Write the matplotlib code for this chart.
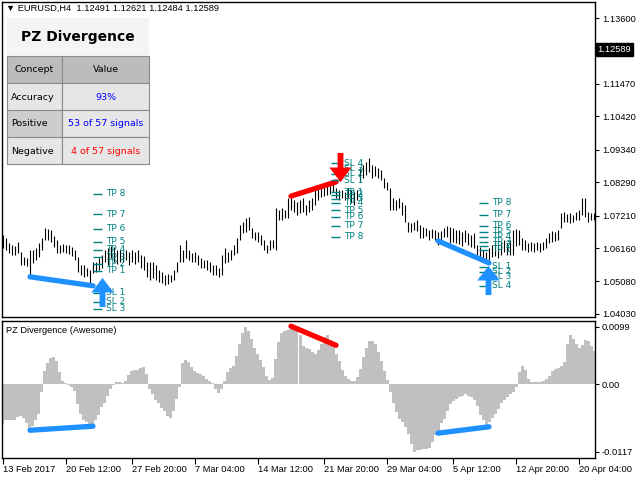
import numpy as np
import matplotlib
matplotlib.use('Agg')
import matplotlib.pyplot as plt
from matplotlib.path import Path
from matplotlib.patches import Rectangle

# EURUSD H4 bars, oldest first (high / low)
highs = [
    1.0658, 1.0649, 1.0633, 1.0626, 1.0623, 1.0636, 1.0603, 1.0587, 1.0584, 1.0610,
    1.0610, 1.0616, 1.0633, 1.0649, 1.0681, 1.0678, 1.0675, 1.0655, 1.0642, 1.0626,
    1.0629, 1.0626, 1.0626, 1.0620, 1.0610, 1.0587, 1.0561, 1.0561, 1.0552, 1.0545,
    1.0571, 1.0571, 1.0584, 1.0594, 1.0610, 1.0616, 1.0623, 1.0620, 1.0610, 1.0610,
    1.0603, 1.0610, 1.0603, 1.0610, 1.0603, 1.0610, 1.0594, 1.0591, 1.0571, 1.0571,
    1.0571, 1.0561, 1.0545, 1.0539, 1.0529, 1.0532, 1.0529, 1.0545, 1.0571, 1.0626,
    1.0610, 1.0642, 1.0610, 1.0600, 1.0603, 1.0594, 1.0584, 1.0578, 1.0578, 1.0571,
    1.0561, 1.0561, 1.0552, 1.0594, 1.0616, 1.0603, 1.0610, 1.0626, 1.0649, 1.0691,
    1.0700, 1.0713, 1.0717, 1.0681, 1.0668, 1.0668, 1.0658, 1.0642, 1.0626, 1.0642,
    1.0642, 1.0746, 1.0739, 1.0746, 1.0739, 1.0778, 1.0778, 1.0772, 1.0765, 1.0772,
    1.0778, 1.0755, 1.0772, 1.0778, 1.0804, 1.0810, 1.0817, 1.0820, 1.0817, 1.0823,
    1.0830, 1.0810, 1.0804, 1.0804, 1.0797, 1.0810, 1.0804, 1.0797, 1.0804, 1.0875,
    1.0885, 1.0894, 1.0907, 1.0885, 1.0881, 1.0875, 1.0869, 1.0843, 1.0830, 1.0810,
    1.0778, 1.0772, 1.0778, 1.0765, 1.0755, 1.0700, 1.0697, 1.0700, 1.0707, 1.0691,
    1.0684, 1.0681, 1.0675, 1.0678, 1.0675, 1.0668, 1.0671, 1.0681, 1.0688, 1.0684,
    1.0681, 1.0675, 1.0675, 1.0668, 1.0675, 1.0665, 1.0658, 1.0665, 1.0626, 1.0620,
    1.0610, 1.0603, 1.0616, 1.0626, 1.0633, 1.0626, 1.0636, 1.0642, 1.0633, 1.0642,
    1.0675, 1.0678, 1.0675, 1.0649, 1.0642, 1.0633, 1.0636, 1.0633, 1.0636, 1.0633,
    1.0636, 1.0649, 1.0665, 1.0671, 1.0668, 1.0675, 1.0730, 1.0733, 1.0726, 1.0730,
    1.0723, 1.0733, 1.0739, 1.0778, 1.0778, 1.0733, 1.0730, 1.0730,
]
lows = [
    1.0616, 1.0610, 1.0600, 1.0594, 1.0594, 1.0600, 1.0561, 1.0561, 1.0558, 1.0519,
    1.0568, 1.0578, 1.0587, 1.0610, 1.0642, 1.0642, 1.0636, 1.0620, 1.0600, 1.0600,
    1.0603, 1.0600, 1.0597, 1.0591, 1.0578, 1.0539, 1.0529, 1.0523, 1.0526, 1.0497,
    1.0536, 1.0539, 1.0545, 1.0552, 1.0571, 1.0561, 1.0584, 1.0571, 1.0565, 1.0571,
    1.0571, 1.0578, 1.0561, 1.0571, 1.0565, 1.0571, 1.0552, 1.0545, 1.0523, 1.0513,
    1.0519, 1.0513, 1.0506, 1.0503, 1.0497, 1.0500, 1.0506, 1.0513, 1.0539, 1.0571,
    1.0571, 1.0584, 1.0578, 1.0571, 1.0571, 1.0561, 1.0552, 1.0552, 1.0545, 1.0539,
    1.0529, 1.0529, 1.0523, 1.0529, 1.0568, 1.0571, 1.0578, 1.0594, 1.0600, 1.0642,
    1.0665, 1.0668, 1.0675, 1.0649, 1.0642, 1.0636, 1.0626, 1.0610, 1.0600, 1.0610,
    1.0616, 1.0610, 1.0707, 1.0707, 1.0713, 1.0713, 1.0739, 1.0733, 1.0723, 1.0730,
    1.0733, 1.0723, 1.0733, 1.0739, 1.0755, 1.0772, 1.0781, 1.0784, 1.0788, 1.0791,
    1.0797, 1.0778, 1.0772, 1.0778, 1.0772, 1.0778, 1.0762, 1.0755, 1.0772, 1.0830,
    1.0843, 1.0852, 1.0862, 1.0843, 1.0849, 1.0843, 1.0836, 1.0810, 1.0804, 1.0739,
    1.0739, 1.0739, 1.0746, 1.0723, 1.0700, 1.0668, 1.0668, 1.0675, 1.0671, 1.0649,
    1.0649, 1.0655, 1.0642, 1.0649, 1.0642, 1.0626, 1.0642, 1.0652, 1.0652, 1.0633,
    1.0636, 1.0633, 1.0629, 1.0623, 1.0636, 1.0626, 1.0620, 1.0616, 1.0584, 1.0578,
    1.0571, 1.0568, 1.0578, 1.0587, 1.0591, 1.0584, 1.0594, 1.0603, 1.0594, 1.0594,
    1.0594, 1.0623, 1.0626, 1.0610, 1.0610, 1.0603, 1.0607, 1.0603, 1.0610, 1.0603,
    1.0610, 1.0616, 1.0633, 1.0636, 1.0639, 1.0642, 1.0681, 1.0700, 1.0700, 1.0697,
    1.0700, 1.0707, 1.0707, 1.0723, 1.0717, 1.0700, 1.0707, 1.0707,
]

# PZ Divergence (Awesome) histogram
osc = [
    -0.0069, -0.0062, -0.0062, -0.0063, -0.0062, -0.0057, -0.0055, -0.0059, -0.0068, -0.0081,
    -0.0072, -0.0063, -0.0052, -0.0014, 0.0023, 0.0036, 0.0045, 0.0047, 0.0039, 0.0020,
    0.0006, 0.0001, -0.0001, -0.0005, -0.0012, -0.0035, -0.0052, -0.0062, -0.0066, -0.0072,
    -0.0070, -0.0063, -0.0053, -0.0040, -0.0032, -0.0020, -0.0009, -0.0002, 0.0003, 0.0004,
    0.0001, 0.0005, 0.0016, 0.0022, 0.0025, 0.0025, 0.0027, 0.0029, 0.0018, -0.0009,
    -0.0017, -0.0028, -0.0033, -0.0042, -0.0047, -0.0055, -0.0059, -0.0047, -0.0026, -0.0005,
    0.0036, 0.0042, 0.0038, 0.0029, 0.0022, 0.0019, 0.0017, 0.0013, 0.0009, 0.0006,
    0.0001, -0.0009, -0.0016, -0.0009, 0.0006, 0.0020, 0.0027, 0.0032, 0.0049, 0.0069,
    0.0088, 0.0099, 0.0092, 0.0078, 0.0063, 0.0052, 0.0042, 0.0029, 0.0014, 0.0007,
    0.0010, 0.0043, 0.0072, 0.0088, 0.0091, 0.0093, 0.0096, 0.0098, 0.0093, 0.0084,
    0.0066, 0.0063, 0.0061, 0.0055, 0.0052, 0.0058, 0.0069, 0.0081, 0.0084, 0.0076,
    0.0066, 0.0052, 0.0039, 0.0024, 0.0014, 0.0008, 0.0005, 0.0006, 0.0012, 0.0026,
    0.0046, 0.0063, 0.0074, 0.0075, 0.0070, 0.0055, 0.0040, 0.0023, 0.0007, -0.0014,
    -0.0032, -0.0049, -0.0061, -0.0066, -0.0075, -0.0087, -0.0104, -0.0117, -0.0115, -0.0114,
    -0.0113, -0.0113, -0.0110, -0.0101, -0.0088, -0.0081, -0.0068, -0.0061, -0.0046, -0.0035,
    -0.0029, -0.0026, -0.0023, -0.0021, -0.0017, -0.0020, -0.0022, -0.0028, -0.0038, -0.0053,
    -0.0063, -0.0072, -0.0066, -0.0059, -0.0052, -0.0043, -0.0032, -0.0028, -0.0023, -0.0018,
    -0.0013, -0.0005, 0.0020, 0.0032, 0.0024, 0.0009, 0.0003, 0.0003, 0.0003, 0.0004,
    0.0006, 0.0009, 0.0014, 0.0023, 0.0026, 0.0028, 0.0032, 0.0038, 0.0069, 0.0084,
    0.0078, 0.0070, 0.0063, 0.0068, 0.0076, 0.0075, 0.0066, 0.0057,
]

dates = ['13 Feb 2017', '20 Feb 12:00', '27 Feb 20:00', '7 Mar 04:00', '14 Mar 12:00',
         '21 Mar 20:00', '29 Mar 04:00', '5 Apr 12:00', '12 Apr 20:00', '20 Apr 04:00']
date_bars = [0, 21, 43, 64, 85, 107, 128, 150, 171, 192]

price_ticks = [1.13600, 1.11470, 1.10420, 1.09340, 1.08290, 1.07210, 1.06160, 1.05080, 1.04030]
last_price = 1.12589
osc_ticks = [0.0099, 0.0, -0.0117]
osc_labels = ['0.0099', '0.00', '-0.0117']

# divergences found by the indicator
div_bar_a = [9, 96, 145]
div_bar_b = [30, 111, 162]
div_price_a = [1.0523, 1.0784, 1.0639]
div_price_b = [1.0494, 1.0830, 1.0568]
div_osc_a = [-0.0080, 0.0100, -0.0085]
div_osc_b = [-0.0073, 0.0067, -0.0074]
div_color = ['#1e90ff', '#ff0000', '#1e90ff']

# signal arrows
sig_bar = [33, 112.3, 161.7]
sig_price = [1.0473, 1.0878, 1.0513]
sig_up = [True, False, True]

# take profit / stop loss levels per signal
lvl_bar = [30, 109.3, 158.7]
lvl_labels = [
    ['TP 8', 'TP 7', 'TP 6', 'TP 5', 'TP 4', 'TP 3', 'TP 2', 'TP 1', 'SL 1', 'SL 2', 'SL 3'],
    ['SL 4', 'SL 3', 'SL 2', 'SL 1', 'TP 1', 'TP 2', 'TP 3', 'TP 4', 'TP 5', 'TP 6', 'TP 7', 'TP 8'],
    ['TP 8', 'TP 7', 'TP 6', 'TP 5', 'TP 4', 'TP 3', 'TP 2', 'TP 1', 'SL 1', 'SL 2', 'SL 3', 'SL 4'],
]
lvl_prices = [
    [1.0791, 1.0726, 1.0678, 1.0636, 1.0610, 1.0587, 1.0565, 1.0542, 1.0471, 1.0442, 1.0419],
    [1.0891, 1.0872, 1.0856, 1.0836, 1.0797, 1.0788, 1.0775, 1.0762, 1.0739, 1.0717, 1.0688, 1.0652],
    [1.0762, 1.0723, 1.0688, 1.0668, 1.0652, 1.0636, 1.0623, 1.0610, 1.0555, 1.0539, 1.0523, 1.0494],
]

# stats panel
stat_concepts = ['Accuracy', 'Positive', 'Negative']
stat_values = ['93%', '53 of 57 signals', '4 of 57 signals']
stat_colors = ['#0000ff', '#0000ff', '#ff0000']

plt.rcParams['font.family'] = ['Liberation Sans', 'DejaVu Sans']
small = 6.7
teal = '#008080'
bars = np.arange(len(highs))

fig = plt.figure(figsize=(6.4, 4.8), dpi=100)
ax = fig.add_axes([2 / 640, 1 - 317 / 480, 593 / 640, 315 / 480])
ax2 = fig.add_axes([2 / 640, 1 - 458 / 480, 593 / 640, 137 / 480])

xlim = (-0.33, 197.33)

# main price chart
ax.vlines(bars, lows, highs, color='black', lw=0.8, zorder=2)
for a, b, pa, pb, c in zip(div_bar_a, div_bar_b, div_price_a, div_price_b, div_color):
    ax.plot([a, b], [pa, pb], color=c, lw=3.8, solid_capstyle='round', zorder=3)

for xb, labs, prices in zip(lvl_bar, lvl_labels, lvl_prices):
    ax.hlines(prices, xb, xb + 3, color=teal, lw=1.0, zorder=4)
    for lab, p in zip(labs, prices):
        ax.text(xb + 4.3, p, lab, color=teal, fontsize=6.5, family='DejaVu Sans',
                va='center', ha='left', zorder=4)

up_verts = [(0, 0.5), (0.38, 0.0), (0.1, 0.0), (0.1, -0.5), (-0.1, -0.5),
            (-0.1, 0.0), (-0.38, 0.0), (0, 0.5)]
codes = [Path.MOVETO] + [Path.LINETO] * 6 + [Path.CLOSEPOLY]
up_arrow = Path(up_verts, codes)
down_arrow = Path([(vx, -vy) for vx, vy in up_verts], codes)
for xb, p, up in zip(sig_bar, sig_price, sig_up):
    ax.plot([xb], [p], marker=up_arrow if up else down_arrow, ms=21, ls='none',
            color='#1e90ff' if up else '#ff0000', mec='none', zorder=5)

ax.set_xlim(*xlim)
ax.set_ylim(1.0393, 1.1412)
ax.set_xticks([])
ax.yaxis.tick_right()
ax.set_yticks(price_ticks)
ax.set_yticklabels(['%.5f' % v for v in price_ticks])
ax.tick_params(axis='y', direction='out', length=3, width=0.8, pad=2, labelsize=small)
ax.text(1.004, last_price, '%.5f' % last_price, transform=ax.get_yaxis_transform(),
        color='white', fontsize=small, va='center', ha='left',
        bbox=dict(boxstyle='square,pad=0.2', fc='black', ec='black'))
for s in ax.spines.values():
    s.set_linewidth(1.0)

ax.text(0.006, 0.993, '\u25bc EURUSD,H4  1.12491 1.12621 1.12484 1.12589',
        transform=ax.transAxes, fontsize=small, va='top', ha='left')

# oscillator sub window
ax2.bar(bars, osc, width=1.0, color='#c0c0c0', linewidth=0, zorder=1)
for a, b, oa, ob, c in zip(div_bar_a, div_bar_b, div_osc_a, div_osc_b, div_color):
    ax2.plot([a, b], [oa, ob], color=c, lw=3.8, solid_capstyle='round', zorder=3)
ax2.set_xlim(*xlim)
ax2.set_ylim(-0.0128, 0.0109)
ax2.yaxis.tick_right()
ax2.set_yticks(osc_ticks)
ax2.set_yticklabels(osc_labels)
ax2.tick_params(axis='y', direction='out', length=3, width=0.8, pad=2, labelsize=small)
ax2.set_xticks(date_bars)
ax2.set_xticklabels(dates, ha='left')
ax2.tick_params(axis='x', direction='out', length=4, width=0.8, pad=1, labelsize=small)
ax2.text(0.006, 0.965, 'PZ Divergence (Awesome)', transform=ax2.transAxes,
         fontsize=small, va='top', ha='left')
for s in ax2.spines.values():
    s.set_linewidth(1.0)

# stats table drawn in pixel space
ov = fig.add_axes([0, 0, 1, 1], zorder=10)
ov.set_xlim(0, 640)
ov.set_ylim(480, 0)
ov.axis('off')
ov.patch.set_alpha(0)
ov.add_patch(Rectangle((7, 18), 142, 38, fc='#f4f4f4', ec='none'))
ov.text(78, 37, 'PZ Divergence', fontsize=10, fontweight='bold', family='DejaVu Sans',
        ha='center', va='center')
edge = '#8a8a8a'
ov.add_patch(Rectangle((7, 56), 55, 27, fc='#bcbcbc', ec=edge, lw=0.8))
ov.add_patch(Rectangle((62, 56), 87, 27, fc='#bcbcbc', ec=edge, lw=0.8))
ov.text(34.5, 70, 'Concept', fontsize=6.8, family='DejaVu Sans', ha='center', va='center')
ov.text(105.5, 70, 'Value', fontsize=6.8, family='DejaVu Sans', ha='center', va='center')
concept_fc = ['#e6e6e6', '#cdcdcd', '#e6e6e6']
for k, (cn, val, col) in enumerate(zip(stat_concepts, stat_values, stat_colors)):
    top = 83 + 27 * k
    ov.add_patch(Rectangle((7, top), 55, 27, fc=concept_fc[k], ec=edge, lw=0.8))
    ov.add_patch(Rectangle((62, top), 87, 27, fc='#e6e6e6', ec=edge, lw=0.8))
    ov.text(11, top + 14, cn, fontsize=6.8, family='DejaVu Sans', ha='left', va='center')
    ov.text(105.5, top + 14, val, fontsize=6.8, family='DejaVu Sans', ha='center',
            va='center', color=col)

fig.savefig('out.png', dpi=100)
